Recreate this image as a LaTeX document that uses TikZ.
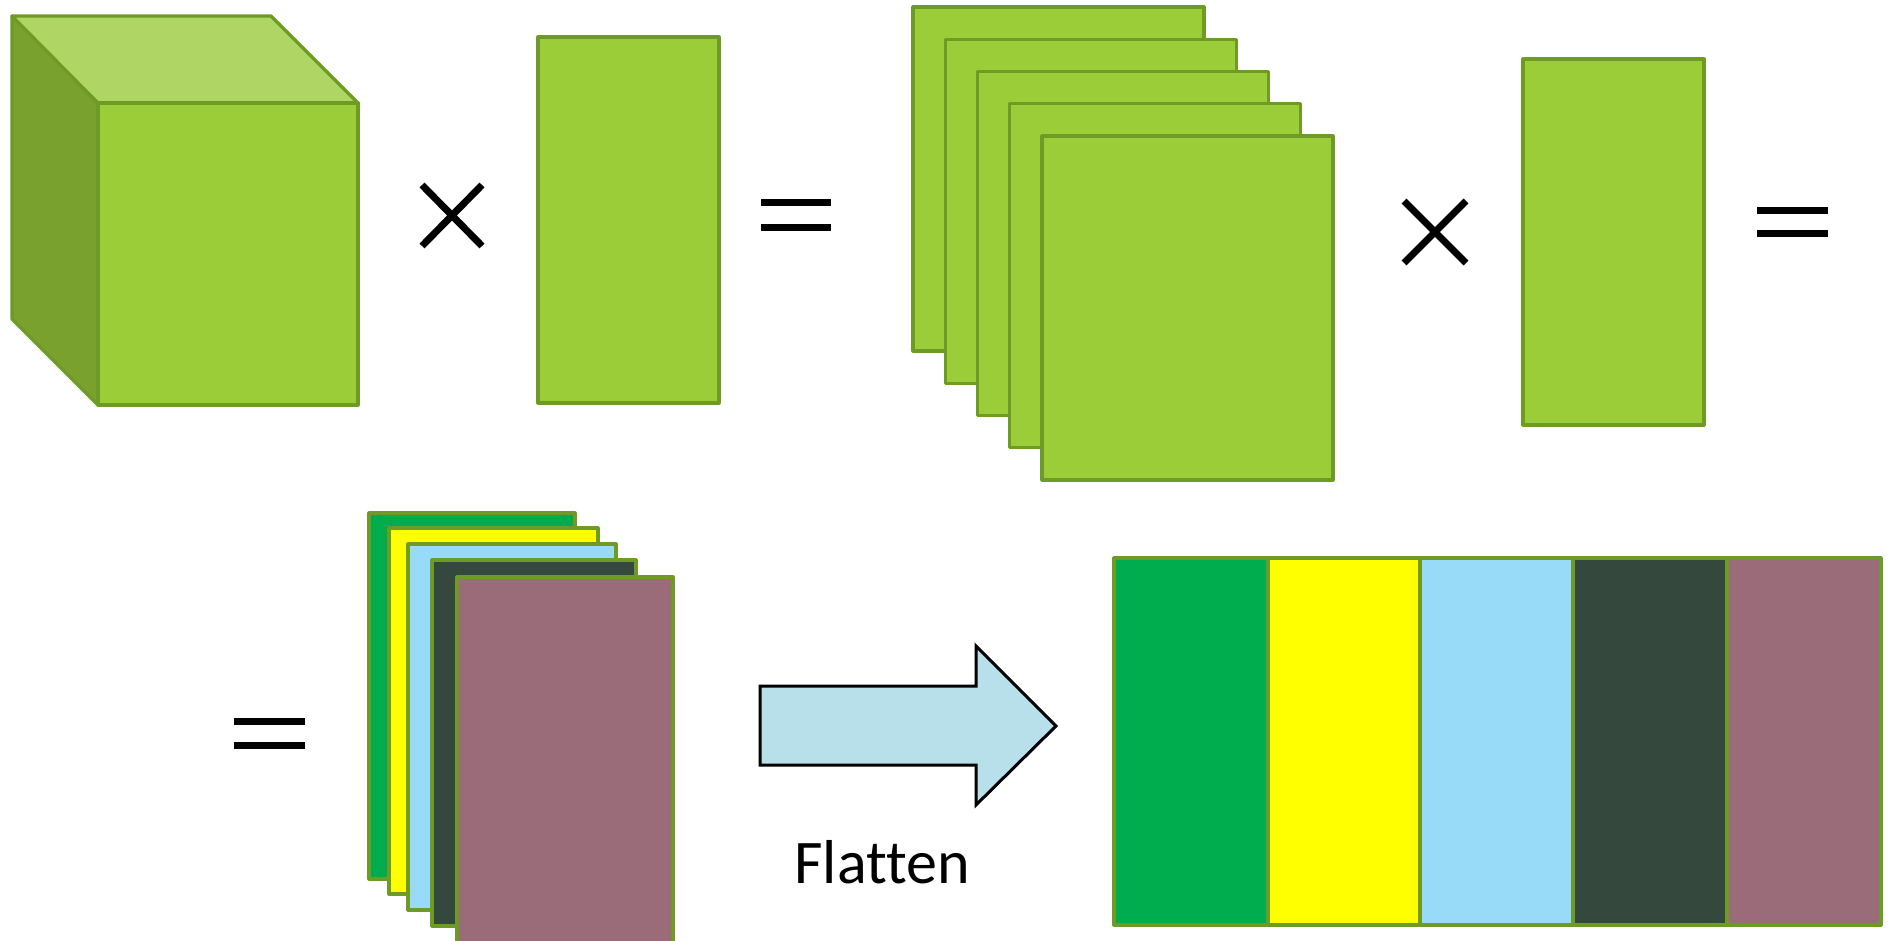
\documentclass[tikz,border=0pt]{standalone}
\usepackage{fontspec}
\newfontfamily\calib[Ligatures=NoCommon]{Carlito}
\definecolor{leaf}{HTML}{9ACD38}
\definecolor{leaftop}{HTML}{AFD665}
\definecolor{leafside}{HTML}{79A12E}
\definecolor{edgegreen}{HTML}{6E9A26}
\definecolor{cgreen}{HTML}{00AD4E}
\definecolor{cyellow}{HTML}{FFFF00}
\definecolor{cblue}{HTML}{97DBF9}
\definecolor{cdark}{HTML}{34483D}
\definecolor{cmauve}{HTML}{9A6B78}
\definecolor{arrowfill}{HTML}{B8E0EA}
\begin{document}
\begin{tikzpicture}[x=1pt,y=-1pt,
  box/.style={draw=edgegreen, line width=3.2, line join=round},
  sym/.style={draw=black, line width=7}]
\useasboundingbox (0,0) rectangle (1894,941);
\clip (0,0) rectangle (1894,941);
% cube
\filldraw[box, fill=leafside] (12,16) -- (98,103) -- (98,405) -- (12,319) -- cycle;
\filldraw[box, fill=leaftop] (12,16) -- (271,16) -- (358,103) -- (98,103) -- cycle;
\filldraw[box, fill=leaf] (98,103) rectangle (358,405);
% times 1
\draw[sym] (422,185) -- (482,246) (422,246) -- (482,185);
% tall rect 1
\filldraw[box, fill=leaf] (538,37) rectangle (719,403);
% equals 1
\draw[sym] (761,203) -- (831,203) (761,228) -- (831,228);
% stack of five
\foreach \i in {0,...,4} {
  \filldraw[box, fill=leaf] (913+32.25*\i, 7+32.25*\i) rectangle ++(291,344);
}
% times 2
\draw[sym] (1404,201) -- (1466,263) (1404,263) -- (1466,201);
% tall rect 2
\filldraw[box, fill=leaf] (1523,59) rectangle (1704,425);
% equals 2
\draw[sym] (1757,211) -- (1828,211) (1757,234) -- (1828,234);
% equals 3
\draw[sym] (234,721) -- (305,721) (234,745) -- (305,745);
% colour stack
\filldraw[box, fill=cgreen] (369,513) rectangle (575,879);
\filldraw[box, fill=cyellow] (389,528) rectangle (598,894);
\filldraw[box, fill=cblue] (408,544) rectangle (616,910);
\filldraw[box, fill=cdark] (432,560) rectangle (636,926);
\filldraw[box, fill=cmauve] (457,577) rectangle (673,945);
% arrow
\filldraw[draw=black, line width=3, line join=miter, fill=arrowfill]
  (760,686) -- (976,686) -- (976,646) -- (1056,726) -- (976,805) -- (976,765) -- (760,765) -- cycle;
\node[font=\calib\fontsize{62}{62}\selectfont, anchor=base, inner sep=0] (flat) at (882,883) {Flatten};
% flattened bar
\filldraw[box, fill=cgreen] (1114,558) rectangle (1268,925);
\filldraw[box, fill=cyellow] (1268,558) rectangle (1420,925);
\filldraw[box, fill=cblue] (1420,558) rectangle (1573,925);
\filldraw[box, fill=cdark] (1573,558) rectangle (1727,925);
\filldraw[box, fill=cmauve] (1727,558) rectangle (1881,925);
\end{tikzpicture}
\end{document}
